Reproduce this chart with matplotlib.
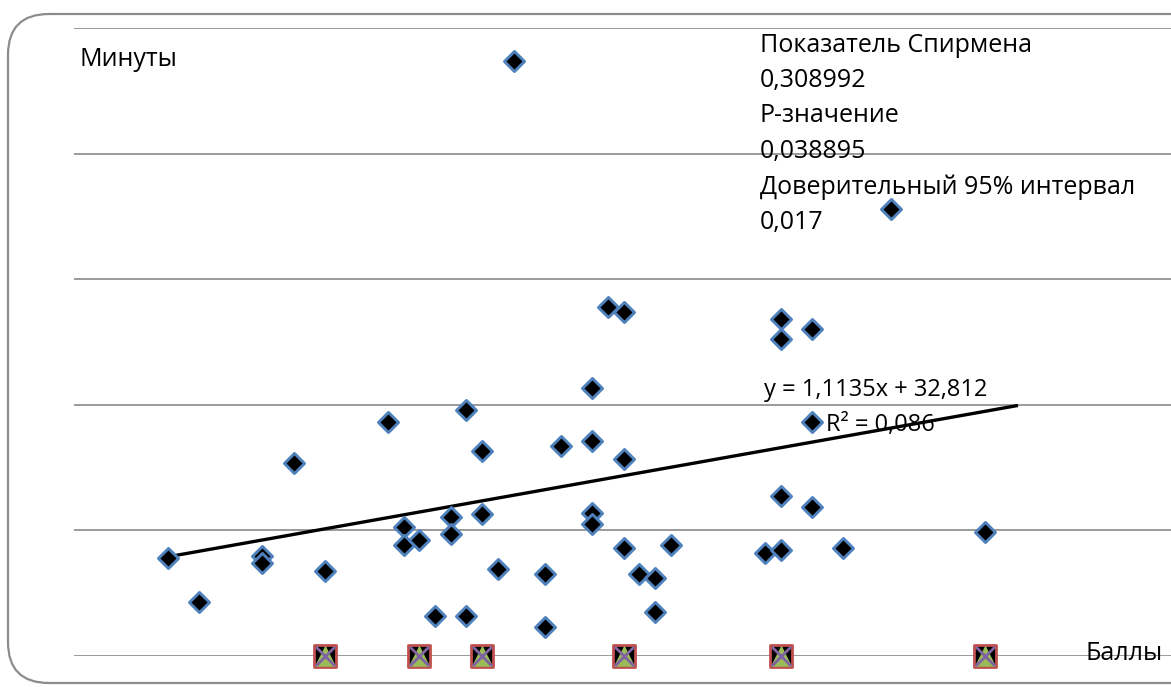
import numpy as np
import matplotlib.pyplot as plt
from matplotlib.patches import FancyBboxPatch

plt.rcParams['font.family'] = ['Open Sans', 'DejaVu Sans']

# Баллы vs Минуты
balls = [6, 8, 12, 12, 14, 16, 20, 21, 21, 22, 23, 24, 24, 25, 25, 26, 26, 27, 28,
         30, 30, 31, 33, 33, 33, 33, 34, 35, 35, 35, 36, 37, 37, 38, 44, 45, 45, 45,
         45, 47, 47, 47, 49, 52, 58]
minutes = [39, 21.5, 40, 37, 77, 34, 93, 51.5, 44, 46, 16, 55.5, 48.5, 98, 16, 81.5,
           56.5, 34.5, 237, 32.5, 11.5, 83.5, 106.5, 85.5, 57, 52.5, 139, 137, 78.5,
           43, 32.5, 31, 17.5, 44, 41, 134, 126, 63.5, 42, 130, 93, 59.5, 43, 178, 49.5]

# second series sitting on the x axis
base_x = [16, 22, 26, 35, 45, 58]
base_y = [0, 0, 0, 0, 0, 0]

# linear trend
slope = 1.1135
intercept = 32.812
trend_x = [6, 60]

stats_lines = ["Показатель Спирмена", "0,308992", "Р-значение", "0,038895",
               "Доверительный 95% интервал", "0,017"]

fig = plt.figure(figsize=(11.71, 6.87), dpi=100)

# rounded chart frame
frame = FancyBboxPatch((8 / 1171, 4 / 687), 1.2, (673 - 4) / 687,
                       boxstyle="round,pad=0,rounding_size=0.035",
                       transform=fig.transFigure, facecolor='none',
                       edgecolor='#8c8c8c', linewidth=1.6, zorder=-1,
                       mutation_aspect=1171 / 687)
fig.patches.append(frame)

ax = fig.add_axes([73.7 / 1171, 31 / 687, 1099.7 / 1171, 628 / 687])
ax.set_facecolor('none')
ax.set_xlim(0, 70)
ax.set_ylim(0, 250)
ax.set_yticks(np.arange(0, 251, 50))
ax.set_xticks([])
ax.tick_params(left=False, labelleft=False)
ax.grid(axis='y', color='#8a8a8a', linewidth=1.2)
for s in ax.spines.values():
    s.set_visible(False)

tx = np.array(trend_x)
ax.plot(tx, slope * tx + intercept, color='black', linewidth=2.4, zorder=3)

ax.scatter(balls, minutes, marker='D', s=105, facecolor='black',
           edgecolor='#4f81bd', linewidth=2.1, zorder=4)

ax.scatter(base_x, base_y, marker='s', s=240, facecolor='black',
           edgecolor='#c0504d', linewidth=2, zorder=5, clip_on=False)
ax.scatter(base_x, base_y, marker='^', s=190, facecolor='#9bbb59',
           edgecolor='#9bbb59', zorder=6, clip_on=False)
ax.scatter(base_x, base_y, marker='x', s=190, color='#8064a2',
           linewidth=2, zorder=7, clip_on=False)

fig.text(876 / 1171, (687 - 390) / 687, "y = 1,1135x + 32,812",
         ha='center', va='center', fontsize=17, zorder=8)
fig.text(880 / 1171, (687 - 425) / 687, "R² = 0,086",
         ha='center', va='center', fontsize=17, zorder=8)

fig.text(80 / 1171, (687 - 60) / 687, "Минуты", ha='left', va='center',
         fontsize=18)
fig.text(1085 / 1171, (687 - 654) / 687, "Баллы", ha='left', va='center',
         fontsize=18)

for i, line in enumerate(stats_lines):
    fig.text(760 / 1171, (687 - 45 - 35.5 * i) / 687, line, ha='left',
             va='center', fontsize=18)

fig.savefig('out.png', dpi=100)
